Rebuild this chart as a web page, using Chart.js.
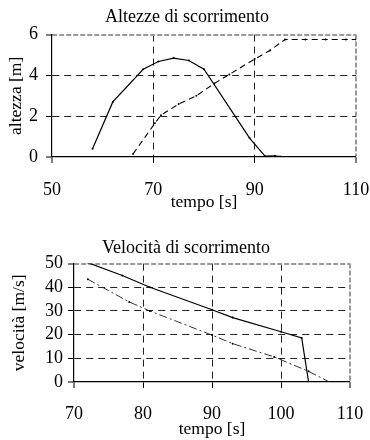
<!DOCTYPE html>
<html>
<head>
<meta charset="utf-8">
<script src="https://cdn.jsdelivr.net/npm/chart.js@4/dist/chart.umd.min.js"></script>
<style>
body{margin:0;background:#fff;}
.box{position:absolute;left:0;width:370px;height:220px;}
</style>
</head>
<body>
<div class="box" style="top:0"><canvas id="chartAltezze" width="370" height="220"></canvas></div>
<div class="box" style="top:220px"><canvas id="chartVelocita" width="370" height="220"></canvas></div>
<script>
// altezze di scorrimento
const tempoA1 = [58, 62, 68, 71, 74, 77, 80, 89, 92, 94, 95];
const altezzaA1 = [0.4, 2.7, 4.3, 4.68, 4.85, 4.73, 4.3, 0.93, 0.05, 0.06, 0.02];
const tempoA2 = [66, 70.3, 71.5, 75, 78.5, 82, 85, 90, 93, 96, 100, 104, 108, 110];
const altezzaA2 = [0.15, 1.65, 2.05, 2.6, 3.0, 3.6, 4.05, 4.8, 5.22, 5.76, 5.76, 5.76, 5.76, 5.76];
const xTicksA = [50, 70, 90, 110];
const yTicksA = [0, 2, 4, 6];

// velocita di scorrimento
const tempoV1 = [72, 77, 81, 90, 93, 100, 103, 104];
const velocV1 = [50.4, 45, 40, 30.5, 27.2, 21.2, 18.6, 0];
const tempoV2 = [72, 78, 81, 90, 93, 99, 104, 107];
const velocV2 = [43.4, 33.8, 30, 19.8, 16.2, 10.6, 4.5, 0];
const xTicksV = [70, 80, 90, 100, 110];
const yTicksV = [0, 10, 20, 30, 40, 50];

Chart.defaults.font.family = '"Liberation Serif", "Times New Roman", serif';
Chart.defaults.font.size = 17;
Chart.defaults.color = '#000';

function pts(xs, ys) {
    var out = [];
    for (let i = 0; i < xs.length; i++) {
        out.push({x: xs[i], y: ys[i]});
    }
    return out;
}

// grid at the max value is the gray dashed frame, the rest dark dashed,
// the one at min sits under the axis line so it is left out
function isEdge(ctx, max) {
    return ctx.tick && ctx.tick.value === max;
}
function gridOpts(min, max) {
    return {
        color: ctx => isEdge(ctx, max) ? '#9a9a9a' : '#222',
        lineWidth: ctx => (ctx.tick && ctx.tick.value === min) ? 0 : (isEdge(ctx, max) ? 2 : 1),
        tickColor: '#000',
        tickBorderDash: [],
        tickLength: 6,
        tickWidth: 1
    };
}
function borderOpts(max) {
    return {
        display: true,
        color: '#000',
        width: 1.2,
        dash: ctx => !ctx.tick ? [] : (isEdge(ctx, max) ? [5, 2] : [7, 5])
    };
}

function makeChart(id, cfg) {
    const xs = cfg.xTicks, ys = cfg.yTicks;
    new Chart(id, {
        type: 'scatter',
        data: {datasets: cfg.datasets},
        options: {
            responsive: false,
            animation: false,
            layout: {padding: {left: cfg.left, right: cfg.right, top: 0, bottom: 0}},
            plugins: {
                legend: {display: false},
                tooltip: {enabled: false},
                title: {
                    display: true,
                    text: cfg.title,
                    color: '#000',
                    font: {size: 18, weight: 'normal'},
                    padding: cfg.titlePad
                }
            },
            scales: {
                x: {
                    type: 'linear',
                    min: xs[0],
                    max: xs[xs.length - 1],
                    afterBuildTicks: s => { s.ticks = xs.map(v => ({value: v})); },
                    afterFit: s => { s.height = cfg.xHeight; s.paddingLeft = 0; s.paddingRight = 0; },
                    ticks: {padding: cfg.xTickPad, maxRotation: 0, autoSkip: false, font: {size: 18}},
                    grid: gridOpts(xs[0], xs[xs.length - 1]),
                    border: borderOpts(xs[xs.length - 1]),
                    title: {display: true, text: 'tempo [s]', font: {size: 17.5}, padding: {top: 0, bottom: cfg.xTitlePad}}
                },
                y: {
                    min: ys[0],
                    max: ys[ys.length - 1],
                    afterBuildTicks: s => { s.ticks = ys.map(v => ({value: v})); },
                    afterFit: s => { s.width = cfg.yWidth; },
                    ticks: {padding: cfg.yTickPad, autoSkip: false, font: {size: 18}},
                    grid: gridOpts(ys[0], ys[ys.length - 1]),
                    border: borderOpts(ys[ys.length - 1]),
                    title: {display: true, text: cfg.yTitle, font: {size: 17.5}, padding: {top: cfg.yTitlePad, bottom: 0}}
                }
            }
        }
    });
}

makeChart('chartAltezze', {
    title: 'Altezze di scorrimento',
    titlePad: {top: 6, bottom: 7},
    yTitle: 'altezza [m]',
    xTicks: xTicksA, yTicks: yTicksA,
    left: 18, right: 14, xHeight: 63, yWidth: 34,
    xTickPad: 16, yTickPad: 8, xTitlePad: 7, yTitlePad: -12.5,
    datasets: [
        {data: pts(tempoA1, altezzaA1), showLine: true, borderColor: '#000', borderWidth: 1.2,
         pointRadius: 1, backgroundColor: '#000', pointBorderWidth: 0},
        {data: pts(tempoA2, altezzaA2), showLine: true, borderColor: '#000', borderWidth: 1.1,
         borderDash: [6, 4], pointRadius: 1, backgroundColor: '#000', pointBorderWidth: 0}
    ]
});

makeChart('chartVelocita', {
    title: 'Velocità di scorrimento',
    titlePad: {top: 17, bottom: 5},
    yTitle: 'velocità [m/s]',
    xTicks: xTicksV, yTicks: yTicksV,
    left: 22, right: 20, xHeight: 58, yWidth: 52,
    xTickPad: 15, yTickPad: 5, xTitlePad: 0, yTitlePad: -13,
    datasets: [
        {data: pts(tempoV1, velocV1), showLine: true, borderColor: '#000', borderWidth: 1.2,
         pointRadius: 1, backgroundColor: '#000', pointBorderWidth: 0},
        {data: pts(tempoV2, velocV2), showLine: true, borderColor: '#333', borderWidth: 1,
         borderDash: [8, 3, 2, 3], pointRadius: 1, backgroundColor: '#000', pointBorderWidth: 0}
    ]
});
</script>
</body>
</html>
